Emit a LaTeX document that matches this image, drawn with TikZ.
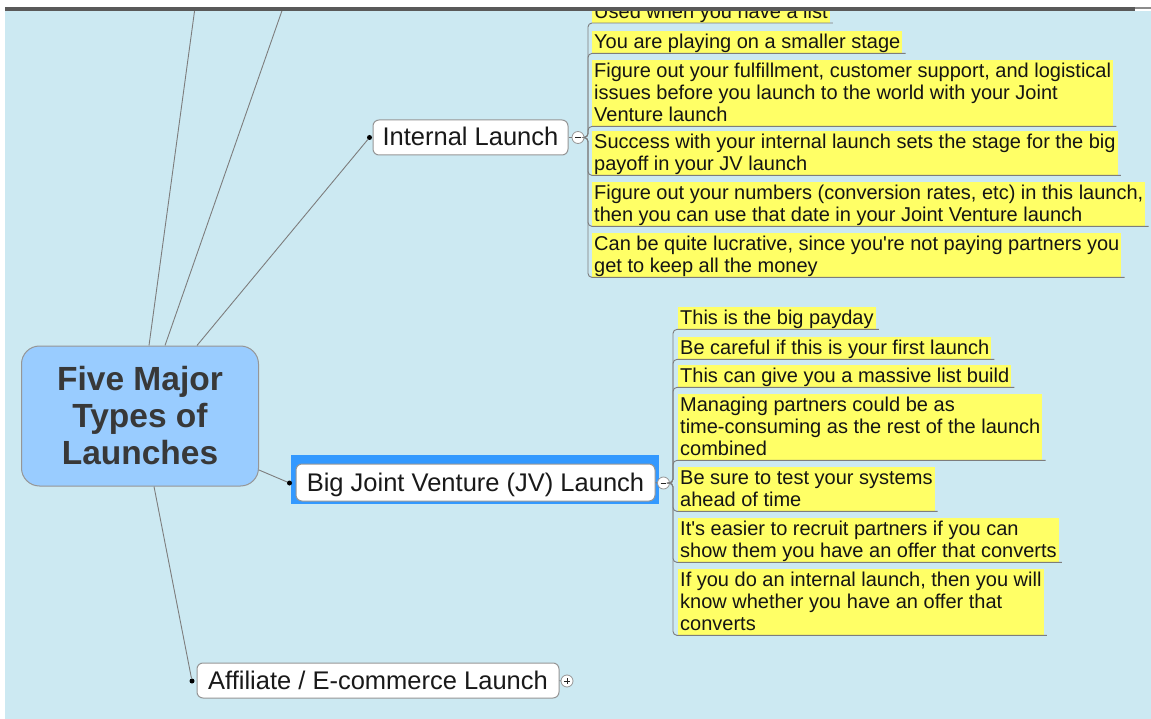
\documentclass[tikz,border=0pt]{standalone}
\usepackage{fontspec}
\setmainfont{Liberation Sans}[Ligatures=TeXOff]
\usetikzlibrary{calc}
\definecolor{bg}{RGB}{204,233,242}
\definecolor{notey}{RGB}{255,255,102}
\definecolor{centralfill}{RGB}{153,204,255}
\definecolor{sel}{RGB}{51,153,255}
\definecolor{linec}{RGB}{125,125,125}
\definecolor{bordc}{RGB}{150,150,150}
\newcommand\nstrut{\rule[-4.5pt]{0pt}{22pt}}
\tikzset{
  conn/.style={draw=linec, line width=0.9pt},
  bracket/.style={draw=linec, line width=0.9pt, rounded corners=4pt},
  branch/.style={draw=bordc, fill=white, rounded corners=6pt, line width=1pt,
    font=\fontsize{25.5}{28}\selectfont, text=black!90, text height=20pt,
    text depth=3pt, inner sep=0pt},
  note/.style={fill=notey, inner xsep=2pt, inner ysep=0pt, align=left,
    anchor=north west, font=\fontsize{20}{22}\selectfont, text=black!92},
  dotn/.style={circle, fill=black, inner sep=0pt, minimum size=5pt},
  toggle/.style={circle, draw=bordc, fill=white, inner sep=0pt,
    minimum size=12pt, line width=0.8pt},
  togminus/.style={toggle, path picture={\draw[black!85, line width=0.9pt]
    ([xshift=-2.8pt]path picture bounding box.center) --
    ([xshift=2.8pt]path picture bounding box.center);}},
  togplus/.style={toggle, path picture={\draw[black!85, line width=0.9pt]
    ([xshift=-2.8pt]path picture bounding box.center) --
    ([xshift=2.8pt]path picture bounding box.center)
    ([yshift=-2.8pt]path picture bounding box.center) --
    ([yshift=2.8pt]path picture bounding box.center);}},
}
\begin{document}
\begin{tikzpicture}[x=1pt, y=-1pt]
\useasboundingbox (0,0) rectangle (1151,719);
\fill[white] (0,0) rectangle (1151,719);
\fill[bg] (5,11) rectangle (1151,719);

\begin{scope}
\clip (5,11) rectangle (1151,719);

% central topic
\node[draw=bordc, fill=centralfill, rounded corners=18pt, line width=1pt,
  minimum width=237pt, minimum height=140pt, inner sep=0pt, align=center,
  font=\bfseries\fontsize{33.5}{37}\selectfont, text=black!78]
  (c) at (140,416) {Five Major\\Types of\\Launches};

% off-screen branches
\coordinate (t1) at (197.4,-10);
\coordinate (t2) at (289.2,-10);
\draw[conn] ([xshift=9pt]c.north) -- (t1);
\draw[conn] ([xshift=25pt]c.north) -- (t2);

% Internal Launch
\node[branch, minimum width=195pt, minimum height=35pt] (il) at (470.5,137.5) {Internal Launch};
\node[dotn] (dI) at (369.5,137.5) {};
\node[togminus] (mI) at (578,137.5) {};
\draw[conn] ([xshift=57pt]c.north) -- (dI);
\draw[conn] (il.east) -- (mI.west);

% Big JV Launch
\node[fill=sel, minimum width=368pt, minimum height=49pt, inner sep=0pt] (jvsel) at (475,479.5) {};
\node[branch, minimum width=359pt, minimum height=37pt] (jv) at (475.5,482.5) {Big Joint Venture (JV) Launch};
\node[dotn] (dJ) at (289.5,483) {};
\node[togminus] (mJ) at (663.5,483) {};
\draw[conn] ([yshift=-54pt]c.east) -- (dJ);
\draw[conn] (jv.east) -- (mJ.west);

% Affiliate
\node[branch, minimum width=362pt, minimum height=35pt] (af) at (378,680.5) {Affiliate / E-commerce Launch};
\node[dotn] (dA) at (192,681) {};
\node[togplus] (mA) at (567,681) {};
\draw[conn] ([xshift=14pt]c.south) -- (dA);
\draw[conn] (af.east) -- (mA.west);

% Internal launch notes
\coordinate (bxI) at (588,0);
\node[note, anchor=south west] (n1) at (592,23) {\nstrut Used when you have a list};
\node[note] (n2) at (592,31) {\nstrut You are playing on a smaller stage};
\node[note] (n3) at (592,60) {\nstrut Figure out your fulfillment, customer support, and logistical\\\nstrut issues before you launch to the world with your Joint\\\nstrut Venture launch};
\node[note] (n4) at (592,131) {\nstrut Success with your internal launch sets the stage for the big\\\nstrut payoff in your JV launch};
\node[note] (n5) at (592,182) {\nstrut Figure out your numbers (conversion rates, etc) in this launch,\\\nstrut then you can use that date in your Joint Venture launch};
\node[note] (n6) at (592,233) {\nstrut Can be quite lucrative, since you're not paying partners you\\\nstrut get to keep all the money};
\foreach \n in {n1,n2,n3,n4,n5,n6}{
  \draw[bracket] (mI.east) -- (mI.east -| bxI) -- (bxI |- \n.south) -- ([xshift=3pt]\n.south east);
}

% JV notes
\coordinate (bxJ) at (673,0);
\node[note] (j1) at (678,307) {\nstrut This is the big payday};
\node[note] (j2) at (678,337) {\nstrut Be careful if this is your first launch};
\node[note] (j3) at (678,365) {\nstrut This can give you a massive list build};
\node[note] (j4) at (678,394) {\nstrut Managing partners could be as\\\nstrut time-consuming as the rest of the launch\\\nstrut combined};
\node[note] (j5) at (678,467) {\nstrut Be sure to test your systems\\\nstrut ahead of time};
\node[note] (j6) at (678,518) {\nstrut It's easier to recruit partners if you can\\\nstrut show them you have an offer that converts};
\node[note] (j7) at (678,569) {\nstrut If you do an internal launch, then you will\\\nstrut know whether you have an offer that\\\nstrut converts};
\foreach \n in {j1,j2,j3,j4,j5,j6,j7}{
  \draw[bracket] (mJ.east) -- (mJ.east -| bxJ) -- (bxJ |- \n.south) -- ([xshift=3pt]\n.south east);
}
\end{scope}

% window top border
\fill[black!65] (5,7) rectangle (1135,11);
\fill[black!45] (1135,7) rectangle (1151,9);
\end{tikzpicture}
\end{document}
